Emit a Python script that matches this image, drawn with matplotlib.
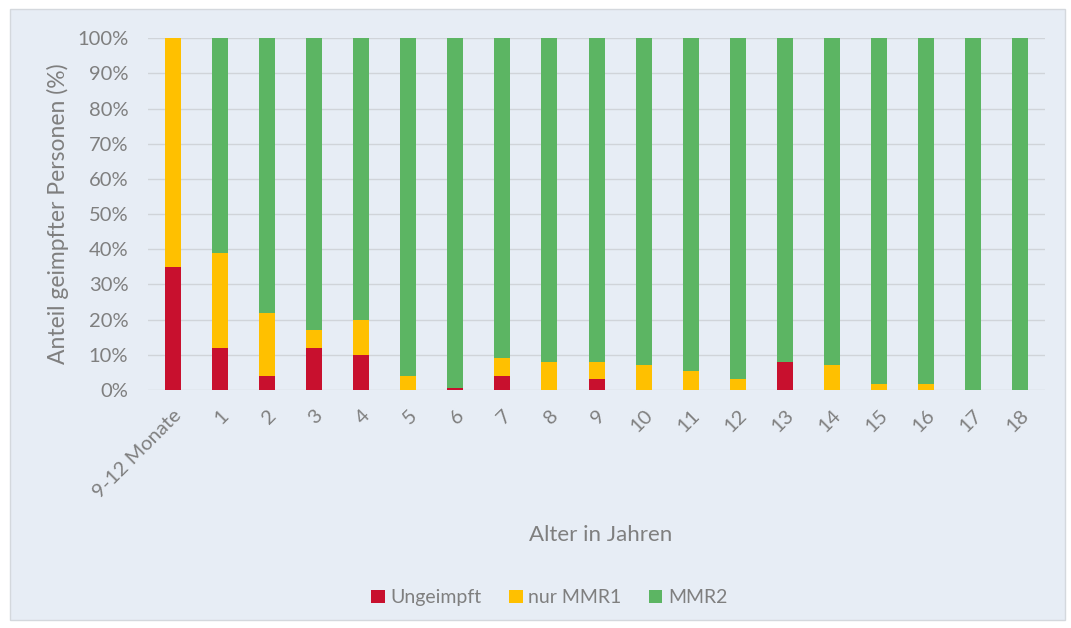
import matplotlib.pyplot as plt
from matplotlib.patches import Rectangle
import numpy as np

plt.rcParams['font.family'] = ['Lato', 'DejaVu Sans']

categories = ["9-12 Monate", "1", "2", "3", "4", "5", "6", "7", "8", "9",
              "10", "11", "12", "13", "14", "15", "16", "17", "18"]
ungeimpft = [35, 12, 4, 12, 10, 0, 0.5, 4, 0, 3, 0, 0, 0, 8, 0, 0, 0, 0, 0]
nur_mmr1 = [65, 27, 18, 5, 10, 4, 0, 5, 8, 5, 7, 5.5, 3, 0, 7, 1.7, 1.7, 0, 0]
mmr2 = [100 - a - b for a, b in zip(ungeimpft, nur_mmr1)]

c_red = "#C8102E"
c_yellow = "#FFC000"
c_green = "#5CB563"
bg = "#E7EDF5"
text_c = "#7F7F7F"

fig = plt.figure(figsize=(10.71, 6.28), dpi=100)
fig.patch.set_facecolor("white")
fig.patches.append(Rectangle((0.009, 0.013), 0.985, 0.972, transform=fig.transFigure,
                             facecolor=bg, edgecolor="#D4D8DD", linewidth=1.0, zorder=-10))

ax = fig.add_axes([0.138, 0.379, 0.838, 0.560])
ax.set_facecolor(bg)
x = np.arange(len(categories))
w = 0.34
bot2 = np.array(ungeimpft) + np.array(nur_mmr1)
ax.bar(x, ungeimpft, w, color=c_red, label="Ungeimpft", zorder=3)
ax.bar(x, nur_mmr1, w, bottom=ungeimpft, color=c_yellow, label="nur MMR1", zorder=3)
ax.bar(x, mmr2, w, bottom=bot2, color=c_green, label="MMR2", zorder=3)

ax.set_xlim(-0.53, len(categories) - 0.47)
ax.set_ylim(0, 100)
ax.set_yticks(np.arange(0, 101, 10))
ax.set_yticklabels([f"{v}%" for v in range(0, 101, 10)], color=text_c, fontsize=14.5)
ax.yaxis.grid(True, color="#D0D4D9", linewidth=1.0, zorder=0)
ax.set_axisbelow(True)
for s in ax.spines.values():
    s.set_visible(False)
ax.tick_params(axis="both", length=0)
ax.tick_params(axis="y", pad=14)
ax.set_xticks(x)
ax.set_xticklabels(categories, rotation=45, ha="right", rotation_mode="anchor",
                   color=text_c, fontsize=14.5)
ax.tick_params(axis="x", pad=12)

ax.set_ylabel("Anteil geimpfter Personen (%)", color=text_c, fontsize=16.5, labelpad=6)
fig.text(0.561, 0.148, "Alter in Jahren", color=text_c, fontsize=16, ha="center", va="center")

handles, labels = ax.get_legend_handles_labels()
leg = fig.legend(handles, labels, loc="center", bbox_to_anchor=(0.513, 0.048), ncol=3,
                 frameon=False, fontsize=14, handlelength=0.7, handleheight=0.7,
                 handletextpad=0.3, columnspacing=1.4)
for t in leg.get_texts():
    t.set_color(text_c)

fig.savefig("out.png", dpi=100, facecolor=fig.get_facecolor())
